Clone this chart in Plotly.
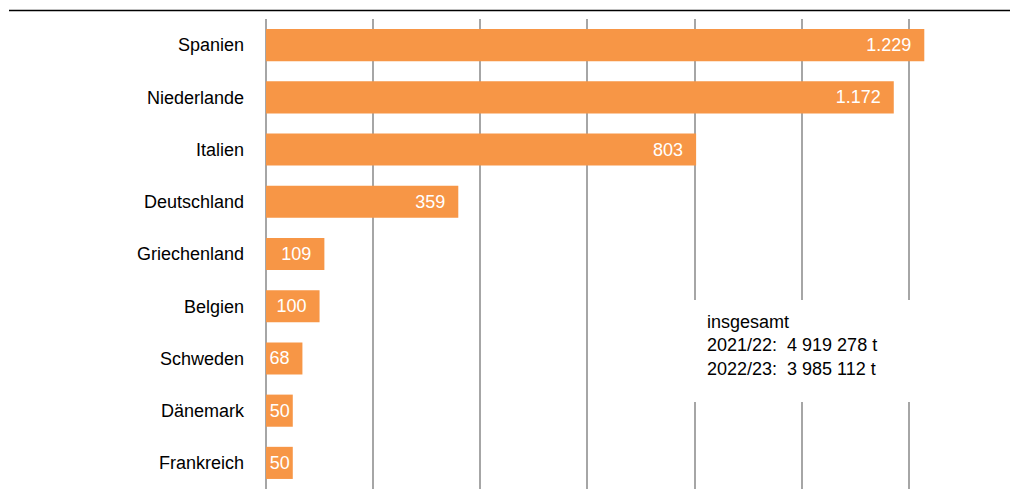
import plotly.graph_objects as go

countries = ["Spanien", "Niederlande", "Italien", "Deutschland", "Griechenland",
             "Belgien", "Schweden", "Dänemark", "Frankreich"]
values = [1229, 1172, 803, 359, 109, 100, 68, 50, 50]
tick_values = [0, 200, 400, 600, 800, 1000, 1200]
note_lines = ["insgesamt", "2021/22:  4 919 278 t", "2022/23:  3 985 112 t"]

FONT = "Liberation Sans, Arial, sans-serif"
ORANGE = "#F79646"
GRID = "#a6a6a6"
FS = 18

W, H = 1010, 493
L, R, T, B = 266, 0, 19, 4
XMAX = 1389

NBSP = "\u00a0"
labels = [f"{v:,}".replace(",", ".") + (NBSP * 2 if v > 60 else "") for v in values]

fig = go.Figure(go.Bar(
    y=countries, x=values, orientation="h",
    marker=dict(color=ORANGE, line=dict(width=0)),
    text=labels, textposition="inside", insidetextanchor="end",
    textfont=dict(family=FONT, size=FS, color="white"),
    hoverinfo="skip", cliponaxis=False,
))

pw = W - L - R
ph = H - T - B
def px_to_x(px):
    return (px - L) / pw * XMAX

shapes = [
    dict(type="line", xref="paper", yref="paper",
         x0=(9 - L) / pw, x1=1.0, y0=(H - B - 10.5) / ph, y1=(H - B - 10.5) / ph,
         line=dict(color="black", width=1.5)),
    dict(type="rect", xref="x", yref="paper", layer="above",
         x0=px_to_x(688), x1=px_to_x(918),
         y0=(H - B - 402) / ph, y1=(H - B - 300) / ph,
         fillcolor="white", line=dict(width=0)),
]

fig.update_layout(
    width=W, height=H,
    margin=dict(l=L, r=R, t=T, b=B, pad=0),
    paper_bgcolor="white", plot_bgcolor="white",
    bargap=0.385,
    showlegend=False,
    font=dict(family=FONT, size=FS, color="black"),
    shapes=shapes,
    xaxis=dict(range=[0, XMAX], tickvals=tick_values, showticklabels=False,
               showgrid=True, gridcolor=GRID, gridwidth=1.5,
               zeroline=True, zerolinecolor=GRID, zerolinewidth=1.5,
               showline=False, fixedrange=True),
    yaxis=dict(categoryorder="array", categoryarray=countries, autorange="reversed",
               showgrid=False, zeroline=False, showline=False, ticks="",
               ticklabelstandoff=21,
               tickfont=dict(family=FONT, size=FS, color="black"), fixedrange=True),
    annotations=[dict(xref="x", yref="paper", x=px_to_x(705), y=(H - B - 310) / ph,
                      xanchor="left", yanchor="top", align="left", showarrow=False,
                      text="<br>".join(note_lines),
                      font=dict(family=FONT, size=FS, color="black"))],
)

fig.write_html("out.html")
